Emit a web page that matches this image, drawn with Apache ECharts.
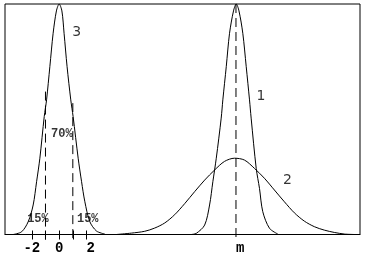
<!DOCTYPE html>
<html><head><meta charset="utf-8">
<script src="https://cdn.jsdelivr.net/npm/echarts@6/dist/echarts.min.js"></script>
<style>html,body{margin:0;padding:0;background:#fff}#c{width:369px;height:258px}</style>
</head><body><div id="c"></div>
<script>
// Curve 3 (standard normal, centred at 0)
const curve3X = [-3.36, -2.74, -2.26, -1.90, -1.65, -1.41, -1.09, -0.92, -0.68, -0.44, -0.2, 0.0, 0.2, 0.36, 0.58, 0.85, 1.02, 1.39, 1.64, 1.88, 2.24, 2.73, 3.34];
const curve3Y = [0, 0.012, 0.056, 0.128, 0.229, 0.331, 0.512, 0.584, 0.728, 0.873, 0.97, 1.0, 0.97, 0.873, 0.728, 0.584, 0.512, 0.331, 0.229, 0.142, 0.056, 0.015, 0.002];
// Curve 1 (narrow, centred at m)
const curve1X = [9.66, 10.03, 10.64, 11.00, 11.24, 11.49, 11.85, 11.97, 12.22, 12.46, 12.75, 12.95, 13.15, 13.43, 13.68, 13.92, 14.04, 14.41, 14.65, 14.89, 15.38, 15.99];
const curve1Y = [0, 0.005, 0.041, 0.128, 0.229, 0.331, 0.505, 0.584, 0.728, 0.873, 0.97, 1.0, 0.97, 0.873, 0.728, 0.584, 0.505, 0.287, 0.200, 0.099, 0.027, 0.002];
// Curve 2 (wide, centred at m)
const curve2X = [4.19, 5.28, 6.26, 6.99, 7.72, 8.45, 9.18, 9.91, 10.64, 11.37, 12.09, 12.82, 13.55, 14.28, 15.01, 15.74, 16.47, 17.20, 17.93, 18.66, 19.39, 20.12, 20.85, 21.58];
const curve2Y = [0, 0.006, 0.014, 0.028, 0.050, 0.086, 0.134, 0.186, 0.236, 0.280, 0.317, 0.331, 0.323, 0.287, 0.244, 0.193, 0.142, 0.094, 0.058, 0.034, 0.019, 0.009, 0.002, 0];
// m position
const mValue = 12.93;
// dashed guide lines at +-1 sigma
const sigmaX = [-1, 1];
const sigmaTop = [0.62, 0.57];
const guideBottom = -0.022;
const mBottom = -0.011;
// axis ticks and labels
const tickValues = [-2, -1, 0, 1, 2];
const labelValues = [-2, 0, 2, mValue];
const labelTexts = ['-2', '0', ' 2', ' m'];
// annotations
const curveNumText = ['3', '1', '2'];
const curveNumX = [1.29, 14.76, 16.69];
const curveNumY = [0.878, 0.601, 0.234];
const pctText = ['70%', '15%', '15%'];
const pctX = [0.20, -1.55, 2.09];
const pctY = [0.436, 0.067, 0.067];

const zip = (xs, ys) => xs.map((x, i) => [x, ys[i]]);
const lineStyle = { color: '#000', width: 1 };
const curve = (xs, ys) => ({
  type: 'line', data: zip(xs, ys), showSymbol: false, symbol: 'none',
  smooth: 0.3, lineStyle, silent: true
});
const dashed = (x, top, bottom) => ({
  type: 'line', data: [[x, top], [x, bottom]], showSymbol: false, symbol: 'none',
  clip: false, lineStyle: { color: '#000', width: 1, type: [9, 5] }, silent: true
});
const labels = (xs, ys, texts, font) => ({
  type: 'scatter', symbolSize: 0.01, itemStyle: { color: 'rgba(0,0,0,0)' }, silent: true,
  data: xs.map((x, i) => ({ value: [x, ys[i]], name: texts[i] })),
  label: Object.assign({ show: true, position: 'inside', color: '#000', formatter: p => p.name }, font)
});

const series = [
  curve(curve3X, curve3Y),
  curve(curve1X, curve1Y),
  curve(curve2X, curve2Y),
  dashed(mValue, 1.0, mBottom),
  ...sigmaX.map((x, i) => dashed(x, sigmaTop[i], guideBottom)),
  labels(curveNumX, curveNumY, curveNumText, { fontFamily: 'DejaVu Sans', fontSize: 14 }),
  labels(pctX, pctY, pctText, { fontFamily: 'Liberation Mono', fontSize: 12, fontWeight: 'bold' })
];

const chart = echarts.init(document.getElementById('c'), null, { renderer: 'canvas' });
chart.setOption({
  animation: false,
  backgroundColor: '#fff',
  grid: { left: 5, right: 9, top: 4, bottom: 23.5, show: true, borderColor: '#000', borderWidth: 1, backgroundColor: 'transparent' },
  xAxis: [{
    type: 'value', min: -3.96, max: 22, position: 'bottom',
    axisLine: { show: true, onZero: false, lineStyle: { color: '#000', width: 1 } },
    axisTick: { show: true, inside: false, length: 5, customValues: tickValues, lineStyle: { color: '#000' } },
    axisLabel: { show: true, customValues: labelValues, margin: 7, color: '#000', fontFamily: 'Liberation Mono', fontSize: 14, fontWeight: 'bold',
      formatter: v => { const i = labelValues.findIndex(l => Math.abs(l - v) < 1e-6); return i >= 0 ? labelTexts[i] : ''; } },
    splitLine: { show: false }
  }, {
    type: 'value', min: -3.96, max: 22, position: 'bottom', gridIndex: 0,
    axisLine: { show: false, onZero: false },
    axisTick: { show: true, inside: true, length: 4, customValues: tickValues, lineStyle: { color: '#000' } },
    axisLabel: { show: false },
    splitLine: { show: false }
  }],
  yAxis: { type: 'value', min: 0, max: 1, show: false, splitLine: { show: false } },
  series
});
</script></body></html>
